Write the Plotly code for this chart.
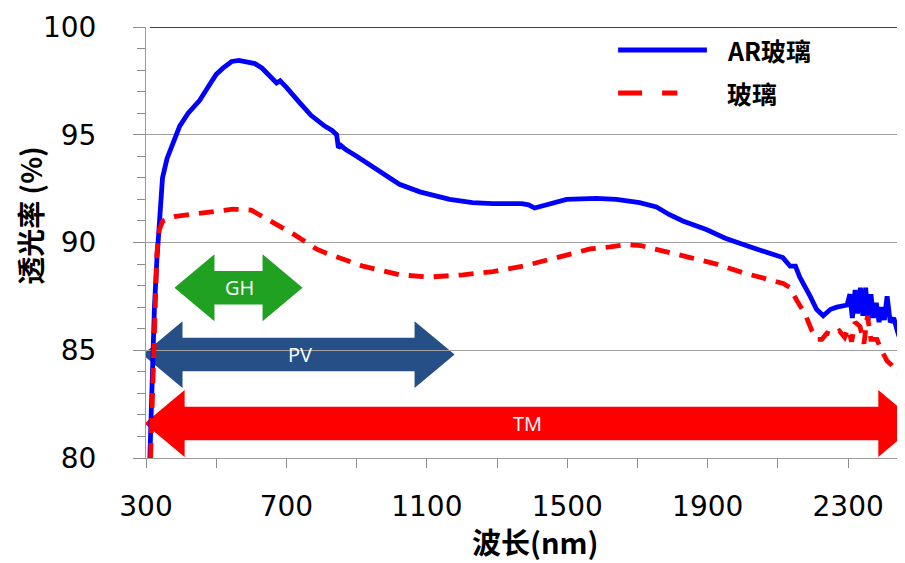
import plotly.graph_objects as go

# ---- data ----
ar_x = [311, 318, 324, 331, 340, 347, 360, 380, 396, 420, 453, 480, 500, 520, 544, 565, 590, 610, 630, 650,
        672, 682, 700, 737, 770, 809, 830, 843, 848, 855, 870, 900, 928, 970, 1022, 1080, 1165, 1230, 1288,
        1370, 1390, 1407, 1440, 1498, 1583, 1640, 1706, 1754, 1790, 1829, 1896, 1950, 2020, 2070, 2114, 2135,
        2150, 2162, 2180, 2192, 2210, 2229, 2250, 2268, 2297, 2305, 2312, 2320, 2327, 2335, 2342, 2350, 2357,
        2365, 2372, 2380, 2388, 2395, 2403, 2411, 2420, 2430, 2440, 2450, 2462]
ar_y = [80.0, 84.0, 87.0, 89.2, 91.5, 93.0, 93.9, 94.8, 95.4, 96.0, 96.6, 97.3, 97.8, 98.1, 98.4, 98.45, 98.35,
        98.3, 98.1, 97.8, 97.4, 97.5, 97.2, 96.5, 95.9, 95.4, 95.2, 95.0, 94.4, 94.5, 94.3, 94.0, 93.7, 93.2,
        92.7, 92.35, 92.0, 91.85, 91.8, 91.8, 91.75, 91.6, 91.75, 92.0, 92.05, 92.0, 91.85, 91.65, 91.3, 91.0,
        90.6, 90.2, 89.8, 89.55, 89.3, 88.9, 88.9, 88.4, 87.9, 87.5, 86.9, 86.6, 86.9, 87.0, 87.1, 87.6, 86.5,
        87.8, 86.7, 87.9, 86.6, 87.9, 86.4, 87.6, 86.5, 87.2, 86.3, 87.0, 86.4, 87.5, 86.3, 86.5, 85.9, 85.4,
        85.0]

gl_x = [313, 318, 322, 326, 331, 338, 348, 380, 425, 480, 548, 600, 643, 671, 700, 719, 757, 785, 814, 851,
        880, 918, 970, 1022, 1109, 1203, 1288, 1374, 1470, 1565, 1622, 1669, 1710, 1754, 1800, 1850, 1925,
        2000, 2077, 2115, 2135, 2154, 2177, 2197, 2212, 2225, 2240, 2257, 2275, 2290, 2300, 2310, 2320, 2334,
        2345, 2355, 2365, 2382, 2395, 2411, 2425, 2434, 2445, 2462]
gl_y = [80.0, 83.0, 85.5, 87.5, 89.5, 90.6, 91.0, 91.2, 91.3, 91.4, 91.55, 91.5, 91.1, 90.9, 90.6, 90.4, 90.0,
        89.7, 89.5, 89.3, 89.1, 88.9, 88.7, 88.5, 88.4, 88.5, 88.65, 88.9, 89.3, 89.7, 89.8, 89.9, 89.85, 89.7,
        89.5, 89.3, 89.0, 88.6, 88.3, 88.1, 87.9, 87.3, 86.7, 85.9, 85.5, 85.5, 85.8, 85.7, 85.9, 85.6, 86.0,
        85.4, 86.3, 86.1, 85.3, 86.6, 85.5, 85.5, 85.0, 84.5, 84.3, 84.1, 83.9, 83.6]

series_names = ["AR玻璃", "玻璃"]

band_names = ["GH", "PV", "TM"]
band_start = [381, 290, 296]
band_end = [746, 1179, 2500]

x_tick_vals = [300, 700, 1100, 1500, 1900, 2300]
y_tick_vals = [80, 85, 90, 95, 100]

# ---- styling / layout constants ----
series_colors = ["#0000ff", "#ff0000"]
series_dash = ["solid", "15px,10px"]
legend_dash = ["solid", "24px,20px"]
legend_y = [0.9466, 0.8469]
legend_x_end = [0.739, 0.700]
band_y = [87.9, 84.8, 81.6]
band_label_x = [566, 739, 1388]
band_colors = ["#21a121", "#264f88", "#ff0000"]
head_len = 114      # nm
head_half = 1.55    # % units
body_half = 0.78

fig = go.Figure()
for xs, ys, nm, col, ds in zip([ar_x, gl_x], [ar_y, gl_y], series_names, series_colors, series_dash):
    fig.add_trace(go.Scatter(x=xs, y=ys, mode="lines", name=nm, showlegend=False,
                             line=dict(color=col, width=4.8, dash=ds)))


def arrow_path(x0, x1, yc):
    a = x0 + head_len
    b = x1 - head_len
    pts = [(x0, yc), (a, yc + head_half), (a, yc + body_half), (b, yc + body_half), (b, yc + head_half),
           (x1, yc), (b, yc - head_half), (b, yc - body_half), (a, yc - body_half), (a, yc - head_half)]
    return "M " + " L ".join(f"{px},{py}" for px, py in pts) + " Z"


shapes = []
annotations = []
for x0, x1, yc, col in zip(band_start, band_end, band_y, band_colors):
    shapes.append(dict(type="path", xref="x", yref="y", path=arrow_path(x0, x1, yc),
                       fillcolor=col, line=dict(width=0), layer="below"))

for name, yc, lx in zip(band_names, band_y, band_label_x):
    annotations.append(dict(x=lx, xref="x", y=yc, yref="y", text=name, showarrow=False,
                            font=dict(family="Open Sans, DejaVu Sans", size=20, color="white")))

# legend (drawn manually for exact placement)
for nm, col, ds, ly, lx1 in zip(series_names, series_colors, legend_dash, legend_y, legend_x_end):
    shapes.append(dict(type="line", xref="paper", yref="paper", x0=0.622, x1=lx1, y0=ly, y1=ly,
                       line=dict(color=col, width=5, dash=ds)))
    annotations.append(dict(x=0.763, xref="paper", xanchor="left", y=ly, yref="paper", yanchor="middle",
                            text=f"<b>{nm}</b>", showarrow=False,
                            font=dict(family="Noto Sans CJK SC, DejaVu Sans", size=25, color="black")))

# top line at 100
shapes.append(dict(type="line", xref="paper", yref="y", x0=0.005, x1=1, y0=100, y1=100,
                   line=dict(color="black", width=1.5), layer="above"))

# axis titles
annotations.append(dict(x=-0.153, xref="paper", xanchor="center", y=0.564, yref="paper", yanchor="middle",
                        text="<b>透光率 (%)</b>", textangle=-90, showarrow=False,
                        font=dict(family="Noto Sans CJK SC, DejaVu Sans", size=28, color="black")))
annotations.append(dict(x=0.5125, xref="paper", xanchor="center", y=-0.243, yref="paper", yanchor="bottom",
                        text="<b>波长(nm)</b>", showarrow=False, borderpad=0,
                        font=dict(family="Noto Sans CJK SC, DejaVu Sans", size=29, color="black")))

fig.update_layout(
    width=897, height=555,
    margin=dict(l=138, r=0, t=19, b=105),
    plot_bgcolor="white", paper_bgcolor="white",
    shapes=shapes, annotations=annotations,
    showlegend=False,
    xaxis=dict(range=[300, 2462], tickvals=x_tick_vals, ticks="outside", ticklen=9, tickcolor="#8c8c8c",
               showline=True, linecolor="#9a9a9a", linewidth=1, showgrid=False, zeroline=False,
               tickfont=dict(family="DejaVu Sans", size=28, color="black"), ticklabelstandoff=14,
               minor=dict(tick0=300, dtick=200, ticks="outside", ticklen=9, tickcolor="#8c8c8c")),
    yaxis=dict(range=[80, 100], tickvals=y_tick_vals, ticks="outside", ticklen=12, tickcolor="#8c8c8c",
               showline=True, linecolor="#9a9a9a", linewidth=1, showgrid=True, gridcolor="#a0a0a0",
               gridwidth=1, zeroline=False,
               tickfont=dict(family="DejaVu Sans", size=28, color="black"), ticklabelstandoff=31,
               minor=dict(dtick=1, ticks="outside", ticklen=8, tickcolor="#8c8c8c", showgrid=False)),
)

fig.write_html("out.html")
